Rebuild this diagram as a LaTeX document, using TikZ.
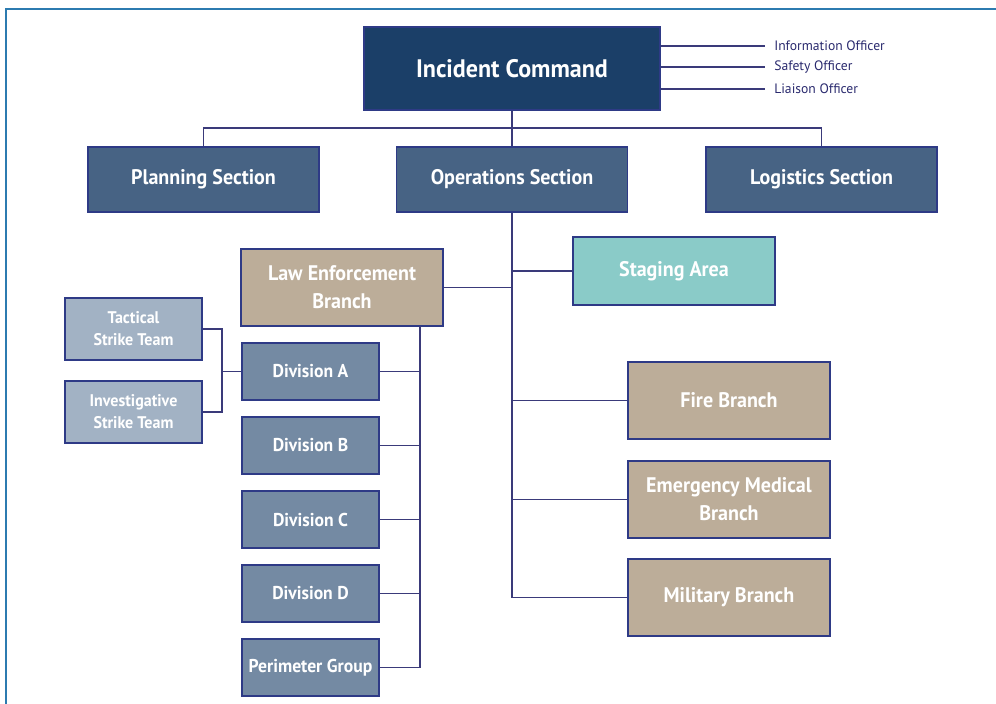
\documentclass[tikz,border=0pt]{standalone}
\usepackage{fontspec}
\setmainfont{PT Sans}
\newfontfamily\boxfont[FakeStretch=0.95]{PT Sans}
\usetikzlibrary{positioning}
\definecolor{cmdblue}{HTML}{1B3F68}
\definecolor{secblue}{HTML}{476384}
\definecolor{divblue}{HTML}{748AA3}
\definecolor{teamblue}{HTML}{A2B2C4}
\definecolor{branchtan}{HTML}{BCAD99}
\definecolor{stageteal}{HTML}{8ACBC8}
\definecolor{boxline}{HTML}{2E3A86}
\definecolor{connline}{HTML}{3A3A7A}
\definecolor{officertext}{HTML}{2A2A6E}
\definecolor{framecol}{HTML}{2C7BB0}
\tikzset{
  box/.style={draw=boxline,line width=0.8pt,align=center,text=white,font=\boxfont\bfseries,inner sep=2pt},
  cmd/.style={box,fill=cmdblue,minimum width=7.4cm,minimum height=2.075cm,font=\boxfont\bfseries\fontsize{18}{20}\selectfont},
  sec/.style={box,fill=secblue,minimum width=5.775cm,minimum height=1.625cm,font=\boxfont\bfseries\fontsize{15}{17}\selectfont},
  branch/.style={box,fill=branchtan,minimum width=5.05cm,minimum height=1.925cm,font=\boxfont\bfseries\fontsize{15}{20}\selectfont},
  div/.style={box,fill=divblue,minimum width=3.425cm,minimum height=1.425cm,font=\boxfont\bfseries\fontsize{13.2}{15}\selectfont},
  team/.style={box,fill=teamblue,minimum width=3.425cm,minimum height=1.55cm,font=\boxfont\bfseries\fontsize{12}{15.6}\selectfont},
  officer/.style={anchor=west,inner xsep=0.225cm,inner ysep=0pt,text=officertext,font=\fontsize{9.7}{11}\selectfont},
  conn/.style={draw=connline,line width=0.9pt},
}
\begin{document}
\begin{tikzpicture}[x=0.025cm,y=-0.025cm]
\useasboundingbox (0,0) rectangle (996,704);
\draw[framecol,line width=1.5pt] (6,704) |- (996,9);

% command and staff
\node[cmd] (ic) at (512,68.5) {Incident Command};
\node[officer] (info) at (765,46) {Information Officer};
\node[officer] (safety) at (765,67) {Safety Officer};
\node[officer] (liaison) at (765,89) {Liaison Officer};
\foreach \o in {info,safety,liaison} \draw[conn] (ic.east |- \o.west) -- (\o.west);

% sections
\node[sec] (plan) at (203.5,179.5) {Planning Section};
\node[sec] (ops) at (512,179.5) {Operations Section};
\node[sec] (logi) at (821.5,179.5) {Logistics Section};
\coordinate (bus) at (512,128);
\draw[conn] (ic.south) -- (ops.north);
\draw[conn] (plan.north) |- (bus) -| (logi.north);

% operations
\node[box,fill=stageteal,minimum width=5.05cm,minimum height=1.7cm,font=\boxfont\bfseries\fontsize{15}{17}\selectfont] (stage) at (674,271) {Staging Area};
\node[branch] (law) at (342,287.5) {Law Enforcement\\Branch};
\node[branch] (fire) at (729,400.5) {Fire Branch};
\node[branch] (ems) at (729,499.5) {Emergency Medical\\Branch};
\node[branch] (mil) at (729,597.5) {Military Branch};
\draw[conn] (ops.south) -- (ops.south |- mil.west);
\foreach \b in {stage,fire,ems,mil} \draw[conn] (ops.south |- \b.west) -- (\b.west);
\draw[conn] (law.east) -- (law.east -| ops.south);

% law enforcement divisions
\node[div] (divA) at (310.5,371.5) {Division A};
\node[div] (divB) at (310.5,445.5) {Division B};
\node[div] (divC) at (310.5,519.5) {Division C};
\node[div] (divD) at (310.5,593.5) {Division D};
\node[div] (perim) at (310.5,667.5) {Perimeter Group};
\coordinate (lspine) at (420,326);
\draw[conn] (lspine) |- (perim.east);
\foreach \d in {divA,divB,divC,divD} \draw[conn] (\d.east) -- (\d.east -| lspine);

% strike teams
\node[team] (tact) at (133.5,329) {Tactical\\Strike Team};
\node[team] (inv) at (133.5,412) {Investigative\\Strike Team};
\coordinate (sjoin) at (222,371.5);
\draw[conn] (tact.east) -| (sjoin) |- (inv.east);
\draw[conn] (sjoin) -- (divA.west);
\end{tikzpicture}
\end{document}
